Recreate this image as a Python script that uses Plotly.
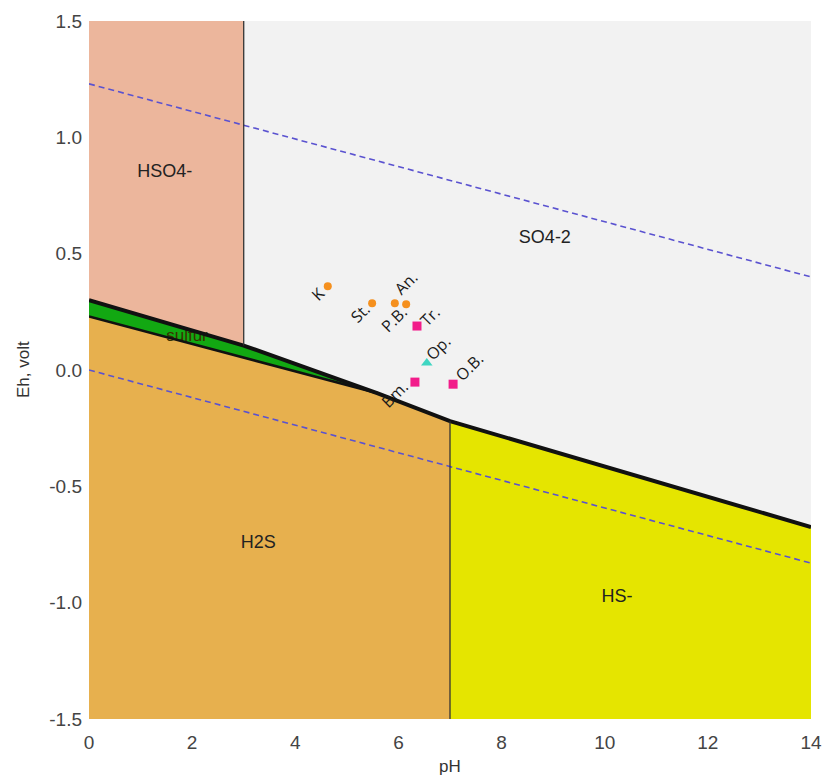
import plotly.graph_objects as go

# ---------------- data ----------------
# stability-field polygons (pH, Eh)
hso4_ph = [0, 3, 3, 0]
hso4_eh = [1.5, 1.5, 0.105, 0.30]
so4_ph = [3, 14, 14, 7, 5.6, 3]
so4_eh = [1.5, 1.5, -0.675, -0.22, -0.10, 0.105]
sulfur_ph = [0, 3, 5.6, 0]
sulfur_eh = [0.30, 0.105, -0.10, 0.23]
h2s_ph = [0, 5.6, 7, 7, 0]
h2s_eh = [0.23, -0.10, -0.22, -1.5, -1.5]
hs_ph = [7, 14, 14, 7]
hs_eh = [-0.22, -0.675, -1.5, -1.5]

# boundary lines
upper_bound_ph = [0, 3, 5.6, 7, 14]
upper_bound_eh = [0.30, 0.105, -0.10, -0.22, -0.675]
lower_bound_ph = [0, 5.6]
lower_bound_eh = [0.23, -0.10]
vline3_ph = [3, 3]
vline3_eh = [1.5, 0.105]
vline7_ph = [7, 7]
vline7_eh = [-0.22, -1.5]

# water stability lines
water_ph = [0, 14]
water_upper_eh = [1.23, 0.40]
water_lower_eh = [0.0, -0.83]

# field labels
field_names = ["HSO4-", "SO4-2", "H2S", "HS-"]
field_ph = [1.47, 8.84, 3.28, 10.24]
field_eh = [0.85, 0.567, -0.745, -0.976]
sulfur_label_ph = [1.9]
sulfur_label_eh = [0.141]

# samples
circle_names = ["K", "St.", "An.", "P.B."]
circle_ph = [4.63, 5.49, 5.93, 6.15]
circle_eh = [0.360, 0.287, 0.287, 0.283]
square_names = ["Tr.", "Bm.", "O.B."]
square_ph = [6.36, 6.32, 7.06]
square_eh = [0.189, -0.052, -0.061]
tri_names = ["Op."]
tri_ph = [6.55]
tri_eh = [0.030]

x_ticks = [0, 2, 4, 6, 8, 10, 12, 14]
y_ticks = [-1.5, -1.0, -0.5, 0.0, 0.5, 1.0, 1.5]
y_tick_text = ["-1.5", "-1.0", "-0.5", "0.0", "0.5", "1.0", "1.5"]

# ---------------- styles ----------------
label_shift = {  # pixel offsets of rotated sample labels (screen x, screen y down)
    "K": (-10, 8), "St.": (-12, 10), "An.": (11, -20), "P.B.": (-12, 15),
    "Tr.": (13, -10), "Bm.": (-20, 12), "O.B.": (16, -17), "Op.": (11, -15),
}

fig = go.Figure()


def poly(xs, ys, color):
    fig.add_trace(go.Scatter(x=xs + xs[:1], y=ys + ys[:1], mode="lines", fill="toself",
                             fillcolor=color, line=dict(width=0, color=color),
                             hoverinfo="skip", showlegend=False))


poly(hso4_ph, hso4_eh, "#ECB69C")
poly(so4_ph, so4_eh, "#F2F2F2")
poly(h2s_ph, h2s_eh, "#E7B04E")
poly(hs_ph, hs_eh, "#E5E500")
poly(sulfur_ph, sulfur_eh, "#12A812")

# water lines
for ys in (water_upper_eh, water_lower_eh):
    fig.add_trace(go.Scatter(x=water_ph, y=ys, mode="lines",
                             line=dict(color="#5A52D0", width=1.6, dash="6px,4px"),
                             hoverinfo="skip", showlegend=False))

# sulfur label beneath the boundary
fig.add_trace(go.Scatter(x=sulfur_label_ph, y=sulfur_label_eh, mode="text", text=["sulfur"],
                         textfont=dict(family="Liberation Sans, Arial", size=17, color="#3a3000"),
                         hoverinfo="skip", showlegend=False))

# boundaries
fig.add_trace(go.Scatter(x=lower_bound_ph, y=lower_bound_eh, mode="lines",
                         line=dict(color="#111111", width=2.5), hoverinfo="skip", showlegend=False))
fig.add_trace(go.Scatter(x=upper_bound_ph, y=upper_bound_eh, mode="lines",
                         line=dict(color="#111111", width=4), hoverinfo="skip", showlegend=False))
for xs, ys in ((vline3_ph, vline3_eh), (vline7_ph, vline7_eh)):
    fig.add_trace(go.Scatter(x=xs, y=ys, mode="lines", line=dict(color="#333333", width=1.3),
                             hoverinfo="skip", showlegend=False))

# field labels
fig.add_trace(go.Scatter(x=field_ph, y=field_eh, mode="text", text=field_names,
                         textfont=dict(family="Liberation Sans, Arial", size=18, color="#222222"),
                         hoverinfo="skip", showlegend=False))

# sample points
fig.add_trace(go.Scatter(x=circle_ph, y=circle_eh, mode="markers",
                         marker=dict(symbol="circle", size=8, color="#F5901E"),
                         showlegend=False))
fig.add_trace(go.Scatter(x=square_ph, y=square_eh, mode="markers",
                         marker=dict(symbol="square", size=9, color="#F21C8A"),
                         showlegend=False))
fig.add_trace(go.Scatter(x=tri_ph, y=tri_eh, mode="markers",
                         marker=dict(symbol="triangle-up", size=10, color="#3FD6C2"),
                         showlegend=False))

for names, xs, ys in ((circle_names, circle_ph, circle_eh),
                      (square_names, square_ph, square_eh),
                      (tri_names, tri_ph, tri_eh)):
    for n, x, y in zip(names, xs, ys):
        dx, dy = label_shift[n]
        fig.add_annotation(x=x, y=y, text=n, showarrow=False, textangle=-45,
                           xshift=dx, yshift=-dy, xanchor="center", yanchor="middle",
                           font=dict(family="Open Sans, Arial", size=16, color="#1a1a1a"))

# axis titles
fig.add_annotation(xref="paper", yref="paper", x=(23 - 89) / 722, y=0.5, text="Eh, volt",
                   textangle=-90, showarrow=False, xanchor="center", yanchor="middle",
                   font=dict(family="Liberation Sans, Arial", size=17, color="#333333"))
fig.add_annotation(xref="paper", yref="paper", x=(450 - 89) / 722, y=(719 - 766) / 698, text="pH",
                   showarrow=False, xanchor="center", yanchor="middle",
                   font=dict(family="Liberation Sans, Arial", size=17, color="#333333"))

fig.update_layout(
    width=823, height=778,
    margin=dict(l=89, r=12, t=21, b=59, autoexpand=False),
    paper_bgcolor="white", plot_bgcolor="white",
    xaxis=dict(range=[0, 14], tickvals=x_ticks, showgrid=False, zeroline=False,
               showline=False, ticks="", ticklabelstandoff=10, automargin=False,
               tickfont=dict(family="Liberation Sans, Arial", size=19, color="#444444")),
    yaxis=dict(range=[-1.5, 1.5], tickvals=y_ticks, ticktext=y_tick_text, showgrid=False,
               zeroline=False, showline=False, ticks="", ticklabelstandoff=6, automargin=False,
               tickfont=dict(family="Liberation Sans, Arial", size=19, color="#444444")),
)

# remove the default page margin so the figure fills the window exactly
fig.write_html("out.html", config={"displayModeBar": False},
               post_script="document.body.style.margin='0';document.body.style.overflow='hidden';")
